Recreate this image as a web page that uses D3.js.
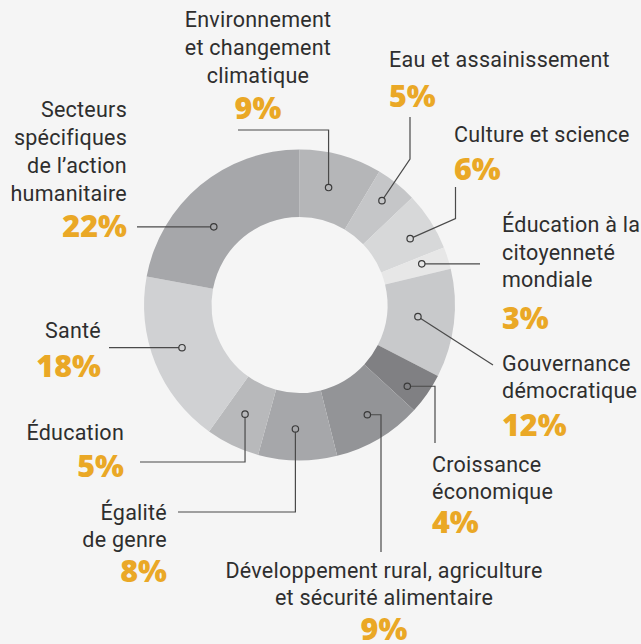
<!DOCTYPE html>
<html><head><meta charset="utf-8">
<script src="https://cdn.jsdelivr.net/npm/d3@7"></script>
<style>
html,body{margin:0;padding:0;background:#f5f5f5;}
svg{display:block;}
</style></head>
<body>
<svg id="chart" width="641" height="644"></svg>
<script>
// ---- data ----
const categories = [
  "Environnement et changement climatique",
  "Eau et assainissement",
  "Culture et science",
  "Éducation à la citoyenneté mondiale",
  "Gouvernance démocratique",
  "Croissance économique",
  "Développement rural, agriculture et sécurité alimentaire",
  "Égalité de genre",
  "Éducation",
  "Santé",
  "Secteurs spécifiques de l’action humanitaire"
];
const values = [8.6, 4.3, 6.1, 2.3, 11.3, 4.3, 9.3, 8.2, 5.6, 18.1, 22.1];
const pctLabels = ["9%", "5%", "6%", "3%", "12%", "4%", "9%", "8%", "5%", "18%", "22%"];
const sliceColors = ["#b5b6b8","#c5c6c8","#d7d8d9","#e7e7e7","#c8c9cb","#808083","#939497","#a6a7aa","#b8b9bb","#d0d1d3","#a6a7aa"];

// ---- layout of annotations (label text lines + leader routing) ----
const annot = [
  {lines:["Environnement","et changement","climatique"], x:258, anchor:"middle", ys:[27,55,83], py:119, frac:0.45, r:121, path:[[null,130],[238,130]]},
  {lines:["Eau et assainissement"], x:389, anchor:"start", ys:[67], py:107, frac:0.48, r:133, path:[[410,159],[410,117]]},
  {lines:["Culture et science"], x:454, anchor:"start", ys:[142], py:180, frac:0.58, r:129, path:[[455.5,218.5],[455.5,187]]},
  {lines:["Éducation à la","citoyenneté","mondiale"], x:502, anchor:"start", ys:[232,260,287], py:329, frac:0.38, r:129, path:[[480,null]]},
  {lines:["Gouvernance","démocratique"], x:502, anchor:"start", ys:[371,398], py:436, frac:0.47, r:119, path:[[493,365]]},
  {lines:["Croissance","économique"], x:432, anchor:"start", ys:[472,499], py:533, frac:0.64, r:135, path:[[435,null],[435,443]]},
  {lines:["Développement rural, agriculture","et sécurité alimentaire"], x:384, anchor:"middle", ys:[578,605], py:640, frac:0.47, r:129, path:[[381,null],[381,552]]},
  {lines:["Égalité","de genre"], x:167, anchor:"end", ys:[520,547], py:582, frac:0.54, r:124, path:[[null,512],[178,512]]},
  {lines:["Éducation"], x:124, anchor:"end", ys:[440], py:477, frac:0.55, r:122, path:[[null,462],[140,462]]},
  {lines:["Santé"], x:101, anchor:"end", ys:[338], py:377, frac:0.53, r:125, path:[[109,null]]},
  {lines:["Secteurs","spécifiques","de l’action","humanitaire"], x:127, anchor:"end", ys:[117,145,173,201], py:237, frac:0.40, r:116, path:[[137,null]]}
];

const cx = 299.5, cy = 305, R = 155.5, r0 = 88;
const svg = d3.select("#chart");
svg.append("rect").attr("width",641).attr("height",644).attr("fill","#f5f5f5");

const pie = d3.pie().sort(null).value(d => d)(values);
const arc = d3.arc().innerRadius(r0).outerRadius(R);
const g = svg.append("g").attr("transform", `translate(${cx},${cy})`);
g.selectAll("path.slice").data(pie).join("path")
  .attr("class","slice")
  .attr("d", arc)
  .attr("fill", (d,i) => sliceColors[i]);

const font = "Roboto, 'Noto Sans', sans-serif";
annot.forEach((a, i) => {
  const p = pie[i];
  const ang = p.startAngle + a.frac * (p.endAngle - p.startAngle);
  const dx = cx + a.r * Math.sin(ang), dy = cy - a.r * Math.cos(ang);
  const pts = [[dx, dy]];
  a.path.forEach(pt => {
    pts.push([pt[0] == null ? dx : pt[0], pt[1] == null ? dy : pt[1]]);
  });
  svg.append("path")
    .attr("d", d3.line()(pts))
    .attr("fill","none").attr("stroke","#4a4a4a").attr("stroke-width",1.2);
  svg.append("circle").attr("cx",dx).attr("cy",dy).attr("r",3.2)
    .attr("fill", sliceColors[i]).attr("stroke","#3a3a3a").attr("stroke-width",1.2);

  a.lines.forEach((t, k) => {
    svg.append("text").attr("x", a.x).attr("y", a.ys[k])
      .attr("text-anchor", a.anchor)
      .attr("font-family", font).attr("font-size", 21.5).attr("letter-spacing", 0.25)
      .attr("fill", "#2e2e2e")
      .text(t);
  });
  svg.append("text").attr("x", a.x).attr("y", a.py)
    .attr("text-anchor", a.anchor)
    .attr("font-family", "'Open Sans', Roboto, sans-serif").attr("font-weight", 800).attr("font-size", 30.5)
    .attr("fill", "#eaa826")
    .text(pctLabels[i]);
});
</script>
</body></html>
